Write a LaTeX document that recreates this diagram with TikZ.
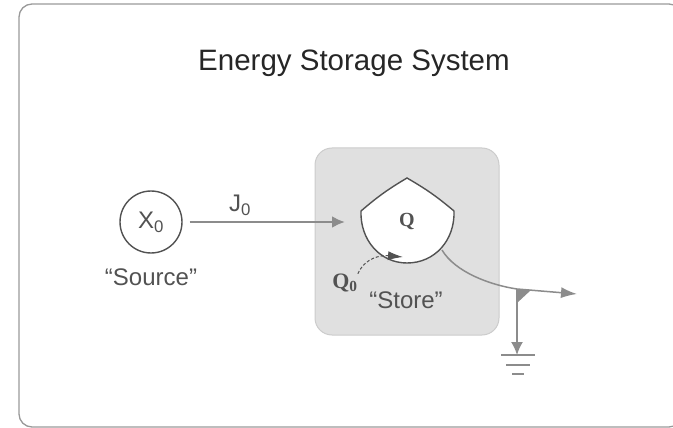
\documentclass[tikz,border=0pt]{standalone}
\usepackage{fontspec}
\setmainfont{Liberation Sans}
\newfontfamily\qfont{Liberation Serif}
\usetikzlibrary{arrows.meta}
\definecolor{inkgrey}{gray}{0.32}
\definecolor{linegrey}{gray}{0.55}
\newcommand{\flow}[1]{\draw[linegrey,line width=2.6pt,-{Latex[length=13pt,width=12pt]},#1]}
\tikzset{lab/.style={text=inkgrey,inner sep=0pt,font=\fontsize{24}{24}\selectfont}}
\begin{document}
\begin{tikzpicture}[x=1pt,y=-1pt]
\useasboundingbox (0,0) rectangle (673,428);
%Frame
	\clip (0,0) rectangle (673,428);
	\draw[gray!80,line width=1.3pt,rounded corners=13pt] (19,4) rectangle (682,427);
	\node[inner sep=0pt,text=black!85,font=\fontsize{29.5}{30}\selectfont] (title) at (354,63) {Energy Storage System};
%The store
	\draw[gray!40,fill=black!12,line width=1pt,rounded corners=17pt] (315,148) rectangle (499,335);
	\draw[inkgrey,fill=white,line width=1.4pt] (361,211) to[bend left=5] (407,178) to[bend left=5] (454,211)
		.. controls (455,240) and (435,263) .. (407,263) .. controls (380,263) and (360,240) .. (361,211) -- cycle;
	\node[lab,font=\qfont\bfseries\fontsize{20}{20}\selectfont] (store) at (407,221) {Q};
	\node[lab] (storename) at (406,300) {``Store''};
	\node[lab,font=\qfont\bfseries\fontsize{22}{22}\selectfont] (level) at (345,283) {Q\textsubscript{0}};
	\coordinate (levelend) at (403,257);
	\draw[inkgrey,densely dashed,line width=1pt,-{Latex[length=15pt,width=9pt]}] (level.north east) .. controls (365,258) and (380,255) .. (levelend);
%The source
	\node[draw=inkgrey,circle,line width=1.4pt,minimum size=62pt,inner sep=0pt] (source) at (151,222) {};
	\node[lab] (sourcevar) at (151,222) {X\textsubscript{0}};
	\node[lab] (sourcename) at (151,277) {``Source''};
	\coordinate (inflow) at (345,222);
	\flow{} (source.east) ++(7,0) -- (inflow);
	\node[lab] (inlabel) at (240,205) {J\textsubscript{0}};
%The outflow
	\coordinate (outstart) at (442,250);
	\coordinate (branch) at (517,289);
	\coordinate (outend) at (577,294);
	\draw[linegrey,line width=1.5pt] (outstart) .. controls (455,272) and (490,285) .. (branch);
	\flow{line width=1.5pt,-{Latex[length=16pt,width=11pt]}} (branch) -- (outend);
	\fill[linegrey] (branch) -- (531,290) -- (517,303) -- cycle;
	\coordinate (earth) at (517,355);
	\flow{line width=1.7pt} (branch) -- (earth);
%Ground
	\draw[linegrey,line width=1.3pt] (501,355) -- (535,355);
	\draw[linegrey,line width=1.3pt] (506,365) -- (530,365);
	\draw[linegrey,line width=1.3pt] (512,374) -- (524,374);
\end{tikzpicture}
\end{document}
